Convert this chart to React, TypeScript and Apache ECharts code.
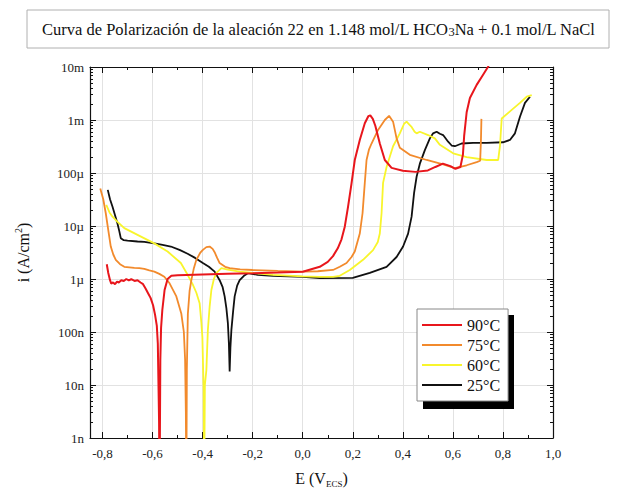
import React, { useEffect, useRef } from 'react';
import * as echarts from 'echarts';

const seriesNames = ['90°C', '75°C', '60°C', '25°C'];
const seriesColors = ['#e8161c', '#f28a2c', '#f8f52c', '#111111'];

// [E (V), i (A/cm2)]
const curve90: number[][] = [
  [-0.783, 1.9e-6], [-0.777, 1.3e-6], [-0.77, 9.5e-7], [-0.765, 8.2e-7], [-0.758, 8.6e-7], [-0.75, 8.0e-7],
  [-0.742, 8.9e-7], [-0.735, 8.6e-7], [-0.725, 9.5e-7], [-0.715, 9.2e-7], [-0.705, 1.0e-6], [-0.695, 9.4e-7],
  [-0.685, 9.9e-7], [-0.672, 9.2e-7], [-0.66, 9.5e-7], [-0.648, 8.6e-7], [-0.638, 8.0e-7], [-0.628, 6.6e-7],
  [-0.618, 5.4e-7], [-0.608, 4.4e-7], [-0.598, 3.2e-7], [-0.59, 2.1e-7], [-0.583, 1.3e-7], [-0.579, 6e-8],
  [-0.576, 8e-9], [-0.574, 2e-9], [-0.572, 1e-10], [-0.569, 3e-8], [-0.566, 1.2e-7], [-0.561, 2.6e-7],
  [-0.552, 6.2e-7], [-0.54, 1.0e-6], [-0.525, 1.15e-6], [-0.5, 1.18e-6], [-0.4, 1.22e-6], [-0.3, 1.25e-6],
  [-0.2, 1.28e-6], [-0.1, 1.32e-6], [0.0, 1.37e-6], [0.068, 1.7e-6], [0.1, 2.1e-6], [0.121, 2.7e-6],
  [0.14, 3.8e-6], [0.155, 5.6e-6], [0.168, 9.7e-6], [0.181, 2.3e-5], [0.195, 6.4e-5], [0.208, 1.76e-4],
  [0.228, 4.2e-4], [0.248, 8.7e-4], [0.262, 1.18e-3], [0.27, 1.22e-3], [0.28, 1.05e-3], [0.29, 7.8e-4],
  [0.308, 3.6e-4], [0.328, 1.76e-4], [0.355, 1.25e-4], [0.4, 1.1e-4], [0.45, 1.05e-4], [0.5, 1.12e-4],
  [0.53, 1.3e-4], [0.56, 1.5e-4], [0.59, 1.35e-4], [0.61, 1.2e-4], [0.63, 1.3e-4], [0.64, 2.2e-4],
  [0.645, 5e-4], [0.655, 1.4e-3], [0.668, 2.6e-3], [0.695, 4.6e-3], [0.715, 6.5e-3], [0.74, 1.0e-2],
  [0.75, 1.25e-2],
];

const curve75: number[][] = [
  [-0.809, 5.1e-5], [-0.797, 3.2e-5], [-0.787, 1.74e-5], [-0.777, 8.4e-6], [-0.767, 4.1e-6], [-0.757, 2.9e-6],
  [-0.747, 2.3e-6], [-0.73, 1.9e-6], [-0.713, 1.7e-6], [-0.693, 1.66e-6], [-0.673, 1.62e-6], [-0.653, 1.6e-6],
  [-0.633, 1.55e-6], [-0.613, 1.45e-6], [-0.593, 1.38e-6], [-0.573, 1.25e-6], [-0.553, 1.1e-6], [-0.532, 8.3e-7],
  [-0.505, 4.7e-7], [-0.485, 2.2e-7], [-0.475, 1.0e-7], [-0.47, 3e-8], [-0.467, 3e-9], [-0.465, 1e-10],
  [-0.463, 2e-8], [-0.459, 2.2e-7], [-0.452, 6e-7], [-0.445, 9.5e-7], [-0.435, 1.6e-6], [-0.425, 2.3e-6],
  [-0.41, 3.1e-6], [-0.399, 3.55e-6], [-0.385, 4.0e-6], [-0.372, 4.1e-6], [-0.36, 3.7e-6], [-0.352, 3.2e-6],
  [-0.342, 2.5e-6], [-0.332, 2.0e-6], [-0.31, 1.7e-6], [-0.292, 1.6e-6], [-0.25, 1.52e-6], [-0.2, 1.48e-6],
  [-0.1, 1.42e-6], [0.0, 1.38e-6], [0.06, 1.4e-6], [0.121, 1.48e-6], [0.148, 1.7e-6], [0.175, 2.0e-6],
  [0.195, 2.6e-6], [0.208, 3.3e-6], [0.228, 7.2e-6], [0.239, 1.74e-5], [0.248, 6.5e-5], [0.255, 1.76e-4],
  [0.265, 2.8e-4], [0.275, 3.6e-4], [0.301, 6.5e-4], [0.328, 1.0e-3], [0.345, 1.2e-3], [0.361, 9.3e-4],
  [0.375, 4.5e-4], [0.388, 3.0e-4], [0.428, 2.2e-4], [0.495, 1.76e-4], [0.561, 1.45e-4], [0.608, 1.23e-4],
  [0.655, 1.4e-4], [0.695, 1.6e-4], [0.709, 1.7e-4], [0.712, 4e-4], [0.714, 1.05e-3],
];

const curve60: number[][] = [
  [-0.785, 2.5e-5], [-0.772, 1.8e-5], [-0.76, 1.5e-5], [-0.74, 1.2e-5], [-0.713, 9.1e-6], [-0.66, 6.8e-6],
  [-0.593, 4.7e-6], [-0.54, 3.3e-6], [-0.487, 2.0e-6], [-0.46, 1.2e-6], [-0.44, 8e-7], [-0.425, 5.5e-7],
  [-0.412, 3.5e-7], [-0.405, 1.5e-7], [-0.401, 8e-8], [-0.398, 2e-8], [-0.396, 8e-9], [-0.394, 1e-10],
  [-0.391, 1e-8], [-0.385, 1.9e-8], [-0.379, 1.1e-7], [-0.372, 3e-7], [-0.365, 6.2e-7], [-0.355, 1.0e-6],
  [-0.345, 1.3e-6], [-0.325, 1.6e-6], [-0.3, 1.5e-6], [-0.252, 1.38e-6], [-0.2, 1.3e-6], [-0.119, 1.2e-6],
  [0.0, 1.12e-6], [0.068, 1.1e-6], [0.121, 1.1e-6], [0.148, 1.15e-6], [0.188, 1.48e-6], [0.241, 2.3e-6],
  [0.281, 3.5e-6], [0.3, 5e-6], [0.308, 7.2e-6], [0.315, 1.74e-5], [0.321, 6.5e-5], [0.335, 1.3e-4],
  [0.361, 3.2e-4], [0.388, 5.6e-4], [0.405, 8.5e-4], [0.415, 9.3e-4], [0.425, 8.3e-4], [0.435, 7.4e-4],
  [0.447, 6.0e-4], [0.455, 5.6e-4], [0.468, 6.0e-4], [0.501, 5.2e-4], [0.528, 4.5e-4], [0.548, 3.4e-4],
  [0.601, 2.35e-4], [0.655, 2.0e-4], [0.735, 1.76e-4], [0.781, 1.76e-4], [0.788, 3.2e-4], [0.795, 1.07e-3],
  [0.835, 1.55e-3], [0.868, 2.1e-3], [0.895, 2.75e-3], [0.915, 2.95e-3],
];

const curve25: number[][] = [
  [-0.779, 4.8e-5], [-0.77, 3.2e-5], [-0.76, 2.3e-5], [-0.75, 1.6e-5], [-0.74, 1.1e-5], [-0.733, 8e-6],
  [-0.727, 5.9e-6], [-0.715, 5.4e-6], [-0.7, 5.3e-6], [-0.66, 5.1e-6], [-0.633, 5.0e-6], [-0.593, 4.7e-6],
  [-0.56, 4.4e-6], [-0.527, 4.1e-6], [-0.49, 3.5e-6], [-0.46, 3.0e-6], [-0.43, 2.5e-6], [-0.399, 2.0e-6],
  [-0.375, 1.7e-6], [-0.352, 1.38e-6], [-0.332, 9.5e-7], [-0.32, 7e-7], [-0.312, 4.7e-7], [-0.305, 2.8e-7],
  [-0.299, 1.45e-7], [-0.295, 6e-8], [-0.292, 1.8e-8], [-0.289, 5e-8], [-0.285, 1.1e-7], [-0.278, 2.5e-7],
  [-0.272, 4.7e-7], [-0.262, 7.5e-7], [-0.252, 9.5e-7], [-0.235, 1.15e-6], [-0.219, 1.29e-6], [-0.18, 1.2e-6],
  [-0.119, 1.15e-6], [0.0, 1.1e-6], [0.068, 1.04e-6], [0.2, 1.05e-6], [0.268, 1.3e-6], [0.335, 1.7e-6],
  [0.375, 2.6e-6], [0.401, 4.1e-6], [0.421, 7.2e-6], [0.435, 1.5e-5], [0.445, 4.2e-5], [0.455, 8.5e-5],
  [0.468, 1.5e-4], [0.488, 2.7e-4], [0.508, 4.5e-4], [0.521, 5.6e-4], [0.535, 6.0e-4], [0.548, 5.5e-4],
  [0.561, 5.2e-4], [0.581, 3.9e-4], [0.595, 3.3e-4], [0.608, 3.2e-4], [0.635, 3.6e-4], [0.681, 3.7e-4],
  [0.735, 3.7e-4], [0.8, 3.8e-4], [0.828, 4.2e-4], [0.848, 5.6e-4], [0.868, 1.15e-3], [0.888, 2.1e-3],
  [0.908, 2.75e-3],
];

const curves = [curve90, curve75, curve60, curve25];

const titleText = '{a|Curva de Polarización de la aleación 22 en 1.148 mol/L HCO}{s|3}{a|Na + 0.1 mol/L NaCl}';
const xMajorTicks = [-0.8, -0.6, -0.4, -0.2, 0.0, 0.2, 0.4, 0.6, 0.8, 1.0];
const xMinorTicks = [-0.7, -0.5, -0.3, -0.1, 0.1, 0.3, 0.5, 0.7, 0.9];
const yMajorTicks = [1e-9, 1e-8, 1e-7, 1e-6, 1e-5, 1e-4, 1e-3, 1e-2];
const yTickLabels = ['1n', '10n', '100n', '1µ', '10µ', '100µ', '1m', '10m'];
const yMinorFactors = [2, 3, 4, 5, 6, 7, 8, 9];

const SERIF = "'Liberation Serif', 'DejaVu Serif', serif";

export default function App() {
  const ref = useRef<HTMLDivElement>(null);
  useEffect(() => {
    if (!ref.current) return;
    const chart = echarts.init(ref.current, undefined, { renderer: 'svg' });
    const yMinorTicks: number[] = [];
    for (let d = 0; d < yMajorTicks.length - 1; d++) {
      for (const f of yMinorFactors) yMinorTicks.push(f * yMajorTicks[d]);
    }
    const xBase = { type: 'value', min: -0.85, max: 1.0, gridIndex: 0 };
    const yBase = { type: 'log', logBase: 10, min: 1e-9, max: 1e-2, gridIndex: 0 };
    const fmtX = (v: number) => (Math.abs(v) < 1e-9 ? '0,0' : v.toFixed(1).replace('.', ','));
    const fmtY = (v: number) => {
      const idx = Math.round(Math.log10(v)) + 9;
      return yTickLabels[idx] ?? '';
    };
    const hidden = { show: false };
    chart.setOption({
      animation: false,
      textStyle: { fontFamily: SERIF },
      graphic: [
        {
          type: 'rect', x: 27, y: 10, z: -10,
          shape: { x: 0, y: 0, width: 582, height: 38 },
          style: { fill: '#fff', stroke: '#b0b0b0', lineWidth: 1 },
        },
        {
          type: 'text', x: 42, y: 29, z: 10,
          style: {
            text: titleText,
            align: 'left',
            verticalAlign: 'middle',
            fontFamily: SERIF,
            fontSize: 16.5,
            fill: '#111',
            rich: {
              a: { fontSize: 16.5, fontFamily: SERIF, fill: '#111', lineHeight: 18 },
              s: { fontSize: 12.5, fontFamily: SERIF, fill: '#111', lineHeight: 6, verticalAlign: 'bottom' },
            },
          },
        },
        {
          type: 'rect', x: 423, y: 315, z: 3,
          shape: { x: 0, y: 0, width: 91, height: 94 },
          style: { fill: '#000' },
        },
      ],
      legend: {
        data: seriesNames.map((n) => ({ name: n, textStyle: { fontFamily: SERIF, fontSize: 16, color: '#111' } })),
        orient: 'vertical',
        left: 417,
        top: 309,
        z: 5,
        backgroundColor: '#fff',
        borderColor: '#888',
        borderWidth: 1,
        padding: [8, 8, 8, 5],
        itemGap: 4,
        itemWidth: 40,
        itemHeight: 2,
        icon: 'rect',
        textStyle: { fontSize: 16, fontFamily: SERIF, color: '#111' },
      },
      grid: { left: 90, right: 64, top: 67, bottom: 57, containLabel: false },
      xAxis: [
        {
          ...xBase,
          position: 'bottom',
          name: '{a|E (V}{s|ECS}{a|)}',
          nameLocation: 'middle',
          nameGap: 30,
          nameTextStyle: {
            rich: {
              a: { fontSize: 16, fontFamily: SERIF, color: '#111', lineHeight: 20 },
              s: { fontSize: 9, fontFamily: SERIF, color: '#111', lineHeight: 8, verticalAlign: 'bottom' },
            },
          },
          axisLine: { show: true, onZero: false, lineStyle: { color: '#111', width: 1.2 } },
          axisTick: { show: true, inside: true, length: 6, customValues: xMajorTicks, lineStyle: { color: '#111' } },
          axisLabel: { show: true, customValues: xMajorTicks, formatter: fmtX, fontSize: 13, fontFamily: SERIF, color: '#222', margin: 9 },
          splitLine: { show: true, lineStyle: { color: '#e2e2e2', width: 1 } },
        },
        {
          ...xBase,
          position: 'bottom',
          axisLine: { show: false, onZero: false },
          axisTick: { show: true, inside: true, length: 3, customValues: xMinorTicks, lineStyle: { color: '#111' } },
          axisLabel: hidden,
          splitLine: hidden,
        },
        {
          ...xBase,
          position: 'top',
          axisLine: { show: true, onZero: false, lineStyle: { color: '#111', width: 1.2 } },
          axisTick: { show: true, inside: true, length: 6, customValues: xMajorTicks, lineStyle: { color: '#111' } },
          axisLabel: hidden,
          splitLine: hidden,
        },
        {
          ...xBase,
          position: 'top',
          axisLine: { show: false, onZero: false },
          axisTick: { show: true, inside: true, length: 3, customValues: xMinorTicks, lineStyle: { color: '#111' } },
          axisLabel: hidden,
          splitLine: hidden,
        },
      ],
      yAxis: [
        {
          ...yBase,
          position: 'left',
          name: '{a|i (A/cm}{s|2}{a|)}',
          nameLocation: 'middle',
          nameGap: 57,
          nameTextStyle: {
            rich: {
              a: { fontSize: 16, fontFamily: SERIF, color: '#111', lineHeight: 20 },
              s: { fontSize: 10, fontFamily: SERIF, color: '#111', lineHeight: 10, verticalAlign: 'top' },
            },
          },
          axisLine: { show: true, onZero: false, lineStyle: { color: '#111', width: 1.2 } },
          axisTick: { show: true, inside: true, length: 6, customValues: yMajorTicks, lineStyle: { color: '#111' } },
          axisLabel: { show: true, customValues: yMajorTicks, formatter: fmtY, fontSize: 13, fontFamily: SERIF, color: '#222', margin: 6 },
          splitLine: { show: true, lineStyle: { color: '#e2e2e2', width: 1 } },
        },
        {
          ...yBase,
          position: 'left',
          axisLine: { show: false, onZero: false },
          axisTick: { show: true, inside: true, length: 3, customValues: yMinorTicks, lineStyle: { color: '#111' } },
          axisLabel: hidden,
          splitLine: hidden,
        },
        {
          ...yBase,
          position: 'right',
          axisLine: { show: true, onZero: false, lineStyle: { color: '#111', width: 1.2 } },
          axisTick: { show: true, inside: true, length: 6, customValues: yMajorTicks, lineStyle: { color: '#111' } },
          axisLabel: hidden,
          splitLine: hidden,
        },
        {
          ...yBase,
          position: 'right',
          axisLine: { show: false, onZero: false },
          axisTick: { show: true, inside: true, length: 3, customValues: yMinorTicks, lineStyle: { color: '#111' } },
          axisLabel: hidden,
          splitLine: hidden,
        },
      ],
      series: [3, 2, 1, 0].map((k) => ({
        name: seriesNames[k],
        type: 'line',
        xAxisIndex: 0,
        yAxisIndex: 0,
        data: curves[k],
        showSymbol: false,
        symbol: 'none',
        clip: true,
        color: seriesColors[k],
        lineStyle: { color: seriesColors[k], width: k === 0 ? 2 : 1.8 },
        z: 2,
      })),
    });
    return () => chart.dispose();
  }, []);
  return <div ref={ref} style={{ width: 617, height: 495, position: 'absolute', left: 0, top: 0 }} />;
}
